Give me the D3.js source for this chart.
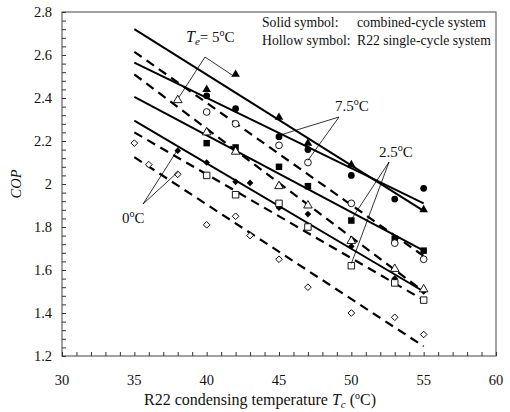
<!DOCTYPE html>
<html><head><meta charset="utf-8">
<script src="https://cdn.jsdelivr.net/npm/d3@7"></script>
<style>body{margin:0;background:#fff}svg{display:block}text{font-family:"Liberation Serif","Times New Roman",serif;fill:#111}</style>
</head><body><svg id="c" width="510" height="412"></svg>
<script>
// ---- data ----
const xTickValues = [30, 35, 40, 45, 50, 55, 60];
const yTickValues = [1.2, 1.4, 1.6, 1.8, 2.0, 2.2, 2.4, 2.6, 2.8];
const yTickLabels = ["1.2", "1.4", "1.6", "1.8", "2", "2.2", "2.4", "2.6", "2.8"];

// combined-cycle system (solid symbols)
const comb5X = [40, 42, 45, 47, 50, 55];
const comb5Y = [2.44, 2.51, 2.31, 2.19, 2.09, 1.88];
const comb75X = [40, 42, 45, 47, 50, 53, 55];
const comb75Y = [2.41, 2.35, 2.22, 2.16, 2.04, 1.93, 1.98];
const comb25X = [40, 42, 45, 47, 50, 53, 55];
const comb25Y = [2.19, 2.17, 2.08, 1.99, 1.83, 1.745, 1.69];
const comb0X = [38, 40, 42, 43, 45, 47, 50, 53, 55];
const comb0Y = [2.155, 2.10, 2.01, 2.005, 1.89, 1.86, 1.71, 1.56, 1.50];
// R22 single-cycle system (hollow symbols)
const sing5X = [38, 40, 42, 45, 47, 50, 53, 55];
const sing5Y = [2.39, 2.24, 2.15, 1.99, 1.90, 1.735, 1.605, 1.51];
const sing75X = [40, 42, 45, 47, 50, 53, 55];
const sing75Y = [2.335, 2.28, 2.18, 2.10, 1.91, 1.725, 1.65];
const sing25X = [40, 42, 45, 47, 50, 53, 55];
const sing25Y = [2.04, 1.95, 1.91, 1.80, 1.62, 1.54, 1.46];
const sing0X = [35, 36, 38, 40, 42, 43, 45, 47, 50, 53, 55];
const sing0Y = [2.19, 2.09, 2.045, 1.81, 1.85, 1.76, 1.65, 1.52, 1.40, 1.38, 1.30];

// trend lines: COP at Tc = 35 and Tc = 55
const lineX = [35, 55];
const combLine5 = [2.72, 1.875];
const combLine75 = [2.565, 1.91];
const combLine25 = [2.405, 1.69];
const combLine0 = [2.295, 1.50];
const singLine75 = [2.615, 1.665];
const singLine5 = [2.51, 1.50];
const singLine25 = [2.24, 1.46];
const singLine0 = [2.125, 1.245];

// ---- chart ----
const svg = d3.select("#c");
const L = 62, R = 496, T = 12, B = 356;
const x = d3.scaleLinear().domain([30, 60]).range([L, R]);
const y = d3.scaleLinear().domain([1.2, 2.8]).range([B, T]);

// frame
svg.append("rect").attr("x", L).attr("y", T).attr("width", R - L).attr("height", B - T)
  .attr("fill", "none").attr("stroke", "#444").attr("stroke-width", 1);

// x axis
const xa = svg.append("g").attr("transform", `translate(0,${B})`)
  .call(d3.axisBottom(x).tickValues(d3.range(30, 61, 1)).tickSize(-4).tickFormat(""));
xa.select(".domain").remove();
xa.selectAll("line").attr("stroke", "#333");
svg.append("g").selectAll("text").data(xTickValues).join("text")
  .attr("x", d => x(d)).attr("y", B + 29).attr("text-anchor", "middle")
  .attr("font-size", 14.5).text(d => d);

// y axis
const ya = svg.append("g").attr("transform", `translate(${L},0)`)
  .call(d3.axisLeft(y).tickValues(d3.range(0, 41).map(i => 1.2 + i * 0.04)).tickSize(-4).tickFormat(""));
ya.select(".domain").remove();
ya.selectAll("line").attr("stroke", "#333");
svg.append("g").selectAll("text").data(yTickValues).join("text")
  .attr("x", 52).attr("y", d => y(d) + 5).attr("text-anchor", "end")
  .attr("font-size", 14.5).text((d, i) => yTickLabels[i]);

// axis titles
const xt = svg.append("text").attr("x", 260).attr("y", 405).attr("text-anchor", "middle").attr("font-size", 16);
xt.append("tspan").text("R22 condensing temperature ");
xt.append("tspan").attr("font-style", "italic").text("T");
xt.append("tspan").attr("font-style", "italic").attr("font-size", 11).attr("dy", 3).text("c");
xt.append("tspan").attr("dy", -3).text(" (");
xt.append("tspan").attr("font-size", 10).attr("dy", -6).text("o");
xt.append("tspan").attr("dy", 6).text("C)");
svg.append("text").attr("transform", "translate(21,184) rotate(-90)").attr("text-anchor", "middle")
  .attr("font-size", 14.5).attr("font-style", "italic").text("COP");

// trend lines
const lines = [
  [combLine5, false], [combLine75, false], [combLine25, false], [combLine0, false],
  [singLine75, true], [singLine5, true], [singLine25, true], [singLine0, true]
];
const lg = svg.append("g");
lines.forEach(([v, dashed]) => {
  lg.append("line").attr("x1", x(lineX[0])).attr("y1", y(v[0])).attr("x2", x(lineX[1])).attr("y2", y(v[1]))
    .attr("stroke", "#000").attr("stroke-width", dashed ? 2.2 : 2)
    .attr("stroke-dasharray", dashed ? "9,6" : null);
});

// symbols
const tri = d3.symbol().type(d3.symbolTriangle).size(32);
const cir = d3.symbol().type(d3.symbolCircle).size(36);
const sq = d3.symbol().type(d3.symbolSquare).size(42);
const dia = d3.symbol().type(d3.symbolSquare).size(22);
const series = [
  [comb5X, comb5Y, tri, 0, true], [comb75X, comb75Y, cir, 0, true],
  [comb25X, comb25Y, sq, 0, true], [comb0X, comb0Y, dia, 45, true],
  [sing5X, sing5Y, tri, 0, false], [sing75X, sing75Y, cir, 0, false],
  [sing25X, sing25Y, sq, 0, false], [sing0X, sing0Y, dia, 45, false]
];
const sg = svg.append("g");
series.forEach(([xs, ys, sym, rot, filled]) => {
  sg.selectAll(null).data(xs.map((d, i) => [d, ys[i]])).join("path")
    .attr("d", sym)
    .attr("transform", d => `translate(${x(d[0])},${y(d[1])}) rotate(${rot})`)
    .attr("fill", filled ? "#000" : "#fff")
    .attr("stroke", "#000").attr("stroke-width", filled ? 0 : 0.9);
});

// annotations
const ag = svg.append("g").attr("stroke", "#000").attr("stroke-width", 0.8);
function leader(vx, vy, targets) {
  targets.forEach(([tx, ty]) => ag.append("line").attr("x1", vx).attr("y1", vy).attr("x2", x(tx)).attr("y2", y(ty)));
}
leader(205, 57, [[41.8, 2.505], [38.1, 2.405]]);
leader(339, 117, [[45.1, 2.228], [47, 2.11]]);
leader(389, 162, [[50, 1.835], [50, 1.63]]);
leader(143, 204, [[38, 2.16], [38, 2.055]]);
function label(tx, ty, parts) {
  const t = svg.append("text").attr("x", tx).attr("y", ty).attr("font-size", 15);
  parts.forEach(p => {
    const s = t.append("tspan").text(p.t);
    if (p.i) s.attr("font-style", "italic");
    if (p.fs) s.attr("font-size", p.fs);
    if (p.dy) s.attr("dy", p.dy);
  });
}
label(186, 42, [{t: "T", i: 1, fs: 16}, {t: "e", i: 1, fs: 11, dy: 3}, {t: "= 5", dy: -3}, {t: "o", fs: 10, dy: -6}, {t: "C", dy: 6}]);
label(335, 111, [{t: "7.5"}, {t: "o", fs: 10, dy: -6}, {t: "C", dy: 6}]);
label(379, 157, [{t: "2.5"}, {t: "o", fs: 10, dy: -6}, {t: "C", dy: 6}]);
label(122, 223, [{t: "0"}, {t: "o", fs: 10, dy: -6}, {t: "C", dy: 6}]);

// legend text
svg.append("text").attr("x", 262).attr("y", 27).attr("font-size", 13.7).text("Solid symbol:");
svg.append("text").attr("x", 357).attr("y", 27).attr("font-size", 13.7).text("combined-cycle system");
svg.append("text").attr("x", 262).attr("y", 45).attr("font-size", 13.7).text("Hollow symbol:");
svg.append("text").attr("x", 357).attr("y", 45).attr("font-size", 13.7).text("R22 single-cycle system");
</script></body></html>
